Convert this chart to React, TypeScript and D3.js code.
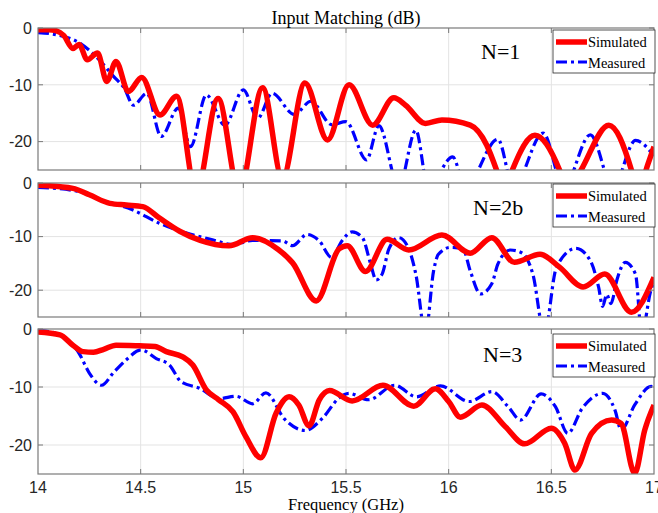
import React from "react";
import * as d3 from "d3";

// ---------- data (frequency in GHz, value in dB) ----------
const xTicks = [14, 14.5, 15, 15.5, 16, 16.5, 17];
const xTickLabels = ["14", "14.5", "15", "15.5", "16", "16.5", "17"];
const yTicks = [0, -10, -20];
const yTickLabels = ["0", "-10", "-20"];
const seriesNames = ["Simulated", "Measured"];
const panelLabels = ["N=1", "N=2b", "N=3"];

const sim1F = [14.0, 14.05, 14.09, 14.125, 14.17, 14.2, 14.24, 14.29, 14.335, 14.38, 14.44, 14.505, 14.594, 14.675, 14.77, 14.877, 14.98, 15.094, 15.19, 15.3, 15.41, 15.515, 15.63, 15.733, 15.79, 15.887, 15.967, 16.105, 16.185, 16.233, 16.27, 16.31, 16.42, 16.54, 16.58, 16.645, 16.78, 16.89, 16.92, 16.97, 17.0];
const sim1V = [-0.3, -0.3, -0.5, -1.3, -3.6, -2.9, -5.6, -4.4, -9.4, -5.9, -11.2, -8.7, -15.3, -12.0, -29, -12.4, -29, -10.5, -26.5, -9.7, -19.7, -10.0, -17.1, -12.3, -13.6, -16.8, -16.2, -17.1, -20.6, -25, -29, -25, -18.9, -25, -29, -25, -17.1, -25, -29, -24, -20.9];

const meas1F = [14.0, 14.09, 14.205, 14.29, 14.37, 14.42, 14.465, 14.53, 14.6, 14.683, 14.743, 14.82, 14.91, 15.0, 15.07, 15.14, 15.248, 15.33, 15.43, 15.5, 15.6, 15.66, 15.757, 15.84, 15.9, 16.02, 16.08, 16.24, 16.315, 16.46, 16.56, 16.69, 16.8, 16.91, 17.0];
const meas1V = [-0.8, -1.2, -2.7, -5.3, -8.6, -10.6, -13.6, -11.5, -19.1, -14.1, -20.9, -11.8, -17.1, -10.9, -15.9, -11.5, -15.2, -12.9, -17.0, -16.5, -23.2, -17.2, -28, -18.0, -28, -22.7, -28, -19.6, -28, -18.5, -28, -18.8, -28, -19.8, -22.5];

const sim2F = [14.0, 14.17, 14.25, 14.35, 14.43, 14.51, 14.59, 14.69, 14.79, 14.93, 15.045, 15.17, 15.24, 15.355, 15.466, 15.506, 15.595, 15.7, 15.806, 15.967, 16.105, 16.21, 16.32, 16.445, 16.54, 16.655, 16.76, 16.89, 17.0];
const sim2V = [-0.4, -1.0, -2.2, -3.8, -4.1, -4.4, -6.5, -9.0, -10.7, -11.7, -10.2, -12.4, -14.9, -22.0, -12.3, -11.7, -16.5, -10.5, -12.5, -9.7, -13.1, -10.2, -14.8, -13.3, -15.7, -19.4, -17.0, -24.1, -17.6];

const meas2F = [14.0, 14.2, 14.3, 14.46, 14.59, 14.72, 14.85, 14.95, 15.045, 15.19, 15.24, 15.31, 15.37, 15.43, 15.48, 15.53, 15.58, 15.62, 15.647, 15.676, 15.709, 15.757, 15.806, 15.84, 15.887, 15.927, 15.95, 16.01, 16.07, 16.105, 16.155, 16.21, 16.24, 16.3, 16.355, 16.41, 16.466, 16.525, 16.62, 16.69, 16.73, 16.75, 16.77, 16.79, 16.82, 16.86, 16.91, 16.94, 16.985, 17.0];
const meas2V = [-0.8, -1.6, -3.1, -5.0, -7.5, -9.3, -10.6, -11.5, -10.7, -10.8, -11.7, -9.6, -10.8, -13.9, -10.8, -9.1, -10.2, -15.1, -18.1, -17.0, -12.3, -10.2, -12.3, -17.0, -28, -16.3, -13.3, -12.0, -12.3, -16.4, -20.7, -18.8, -15.1, -12.5, -13.0, -17.0, -28, -15.7, -12.2, -14.5, -19.4, -23.0, -20.8, -22.5, -18.0, -14.8, -17.0, -28, -20.0, -18.5];

const sim3F = [14.0, 14.107, 14.17, 14.22, 14.27, 14.32, 14.38, 14.495, 14.57, 14.625, 14.705, 14.754, 14.82, 14.88, 14.95, 15.013, 15.085, 15.16, 15.223, 15.27, 15.32, 15.37, 15.42, 15.53, 15.68, 15.83, 15.935, 16.0, 16.057, 16.162, 16.275, 16.37, 16.5, 16.565, 16.615, 16.696, 16.793, 16.84, 16.906, 16.955, 17.0];
const sim3V = [-0.5, -1.0, -2.8, -3.9, -4.0, -3.5, -2.8, -2.9, -3.0, -3.9, -4.8, -6.2, -10.5, -12.2, -14.3, -18.6, -22.2, -14.5, -11.7, -13.1, -16.7, -12.2, -10.6, -12.4, -9.7, -13.3, -10.3, -12.5, -15.2, -13.1, -16.8, -19.8, -17.1, -19.7, -24.3, -18.0, -15.7, -16.3, -24.9, -17.4, -13.1];

const meas3F = [14.0, 14.107, 14.2, 14.25, 14.31, 14.366, 14.43, 14.503, 14.576, 14.64, 14.697, 14.786, 14.883, 14.965, 15.045, 15.11, 15.2, 15.3, 15.385, 15.466, 15.515, 15.61, 15.737, 15.843, 15.96, 16.1, 16.21, 16.29, 16.35, 16.45, 16.52, 16.58, 16.65, 16.75, 16.81, 16.84, 16.906, 16.986, 17.0];
const meas3V = [-0.2, -1.0, -4.2, -7.6, -9.7, -7.6, -5.3, -3.6, -5.1, -6.2, -9.1, -10.2, -12.0, -11.6, -12.9, -11.0, -15.5, -17.5, -15.4, -11.9, -11.1, -12.2, -9.7, -11.7, -9.8, -12.5, -10.8, -13.4, -15.7, -11.2, -13.4, -18.0, -13.7, -11.1, -14.0, -17.4, -13.1, -9.9, -10.0];

// ---------- layout ----------
const W = 658;
const H = 513;
const LEFT = 38;
const RIGHT = 654;

const panels = [
  { top: 28, bottom: 170, legendTop: 30, labelX: 481, labelY: 59, sim: [sim1F, sim1V], meas: [meas1F, meas1V] },
  { top: 183, bottom: 317, legendTop: 184, labelX: 473, labelY: 215, sim: [sim2F, sim2V], meas: [meas2F, meas2V] },
  { top: 329, bottom: 474, legendTop: 334, labelX: 483, labelY: 362, sim: [sim3F, sim3V], meas: [meas3F, meas3V] },
];

const x = d3.scaleLinear().domain([14, 17]).range([LEFT, RIGHT]);

const zip = (f: number[], v: number[]) => f.map((d, i) => [d, v[i]] as [number, number]);

const AX = "#7a7a7a";
const TXT = "#262626";
const GRID = "#e3e3e3";
const SERIF = "'Liberation Serif', 'Times New Roman', serif";
const SANS = "'Liberation Sans', Arial, sans-serif";

function Panel({ p, i, last }: { p: typeof panels[number]; i: number; last: boolean }) {
  const y = d3.scaleLinear().domain([-25, 0]).range([p.bottom, p.top]);
  const line = d3
    .line<[number, number]>()
    .x((d) => x(d[0]))
    .y((d) => y(d[1]))
    .curve(d3.curveMonotoneX);
  const clipId = `clip${i}`;
  const lx = 553;
  const lw = 102;
  const lh = 43;
  const ly = p.legendTop;
  return (
    <g>
      <defs>
        <clipPath id={clipId}>
          <rect x={LEFT} y={p.top} width={RIGHT - LEFT} height={p.bottom - p.top} />
        </clipPath>
      </defs>
      {xTicks.slice(1, -1).map((t) => (
        <line key={"gx" + t} x1={x(t)} x2={x(t)} y1={p.top} y2={p.bottom} stroke={GRID} strokeWidth={1} />
      ))}
      {yTicks.slice(1).map((t) => (
        <line key={"gy" + t} x1={LEFT} x2={RIGHT} y1={y(t)} y2={y(t)} stroke={GRID} strokeWidth={1} />
      ))}
      <g clipPath={`url(#${clipId})`}>
        <path d={line(zip(p.meas[0], p.meas[1])) || ""} fill="none" stroke="#0000ff" strokeWidth={3.2} strokeDasharray="11,4,3,4" />
        <path d={line(zip(p.sim[0], p.sim[1])) || ""} fill="none" stroke="#ff0000" strokeWidth={5.5} strokeLinejoin="round" />
      </g>
      <rect x={LEFT} y={p.top} width={RIGHT - LEFT} height={p.bottom - p.top} fill="none" stroke={AX} strokeWidth={1.2} />
      {xTicks.slice(1, -1).map((t) => (
        <g key={"tx" + t}>
          <line x1={x(t)} x2={x(t)} y1={p.bottom} y2={p.bottom - 5} stroke={AX} />
          <line x1={x(t)} x2={x(t)} y1={p.top} y2={p.top + 5} stroke={AX} />
        </g>
      ))}
      {yTicks.map((t) => (
        <g key={"ty" + t}>
          <line x1={LEFT} x2={LEFT + 5} y1={y(t)} y2={y(t)} stroke={AX} />
          <line x1={RIGHT} x2={RIGHT - 5} y1={y(t)} y2={y(t)} stroke={AX} />
        </g>
      ))}
      {yTicks.map((t, k) => (
        <text key={"yl" + t} x={32} y={y(t)} dy="0.36em" textAnchor="end" fontFamily={SANS} fontSize={16} fill={TXT}>
          {yTickLabels[k]}
        </text>
      ))}
      {last &&
        xTicks.map((t, k) => (
          <text key={"xl" + t} x={x(t)} y={493} textAnchor="middle" fontFamily={SANS} fontSize={16} fill={TXT}>
            {xTickLabels[k]}
          </text>
        ))}
      <text x={p.labelX} y={p.labelY} fontFamily={SERIF} fontSize={22} fill="#000">
        {panelLabels[i]}
      </text>
      <rect x={lx} y={ly} width={lw} height={lh} fill="#fff" stroke={TXT} strokeWidth={0.8} />
      <line x1={lx + 3} x2={lx + 34} y1={ly + 12} y2={ly + 12} stroke="#ff0000" strokeWidth={5.5} />
      <line x1={lx + 3} x2={lx + 34} y1={ly + 32} y2={ly + 32} stroke="#0000ff" strokeWidth={3.2} strokeDasharray="11,4,3,4" />
      <text x={lx + 35} y={ly + 17} fontFamily={SERIF} fontSize={14.5} fill="#000">
        {seriesNames[0]}
      </text>
      <text x={lx + 35} y={ly + 37.5} fontFamily={SERIF} fontSize={14.5} fill="#000">
        {seriesNames[1]}
      </text>
    </g>
  );
}

export default function App() {
  return (
    <svg
      width={W}
      height={H}
      viewBox={`0 0 ${W} ${H}`}
      style={{ position: "absolute", left: 0, top: 0, background: "#fff" }}
    >
      <rect x={0} y={0} width={W} height={H} fill="#fff" />
      {panels.map((p, i) => (
        <Panel key={i} p={p} i={i} last={i === panels.length - 1} />
      ))}
      <text x={(LEFT + RIGHT) / 2} y={24} textAnchor="middle" fontFamily={SERIF} fontSize={18} fill="#000">
        Input Matching (dB)
      </text>
      <text x={(LEFT + RIGHT) / 2} y={510} textAnchor="middle" fontFamily={SERIF} fontSize={16.5} fill="#000">
        Frequency (GHz)
      </text>
    </svg>
  );
}
